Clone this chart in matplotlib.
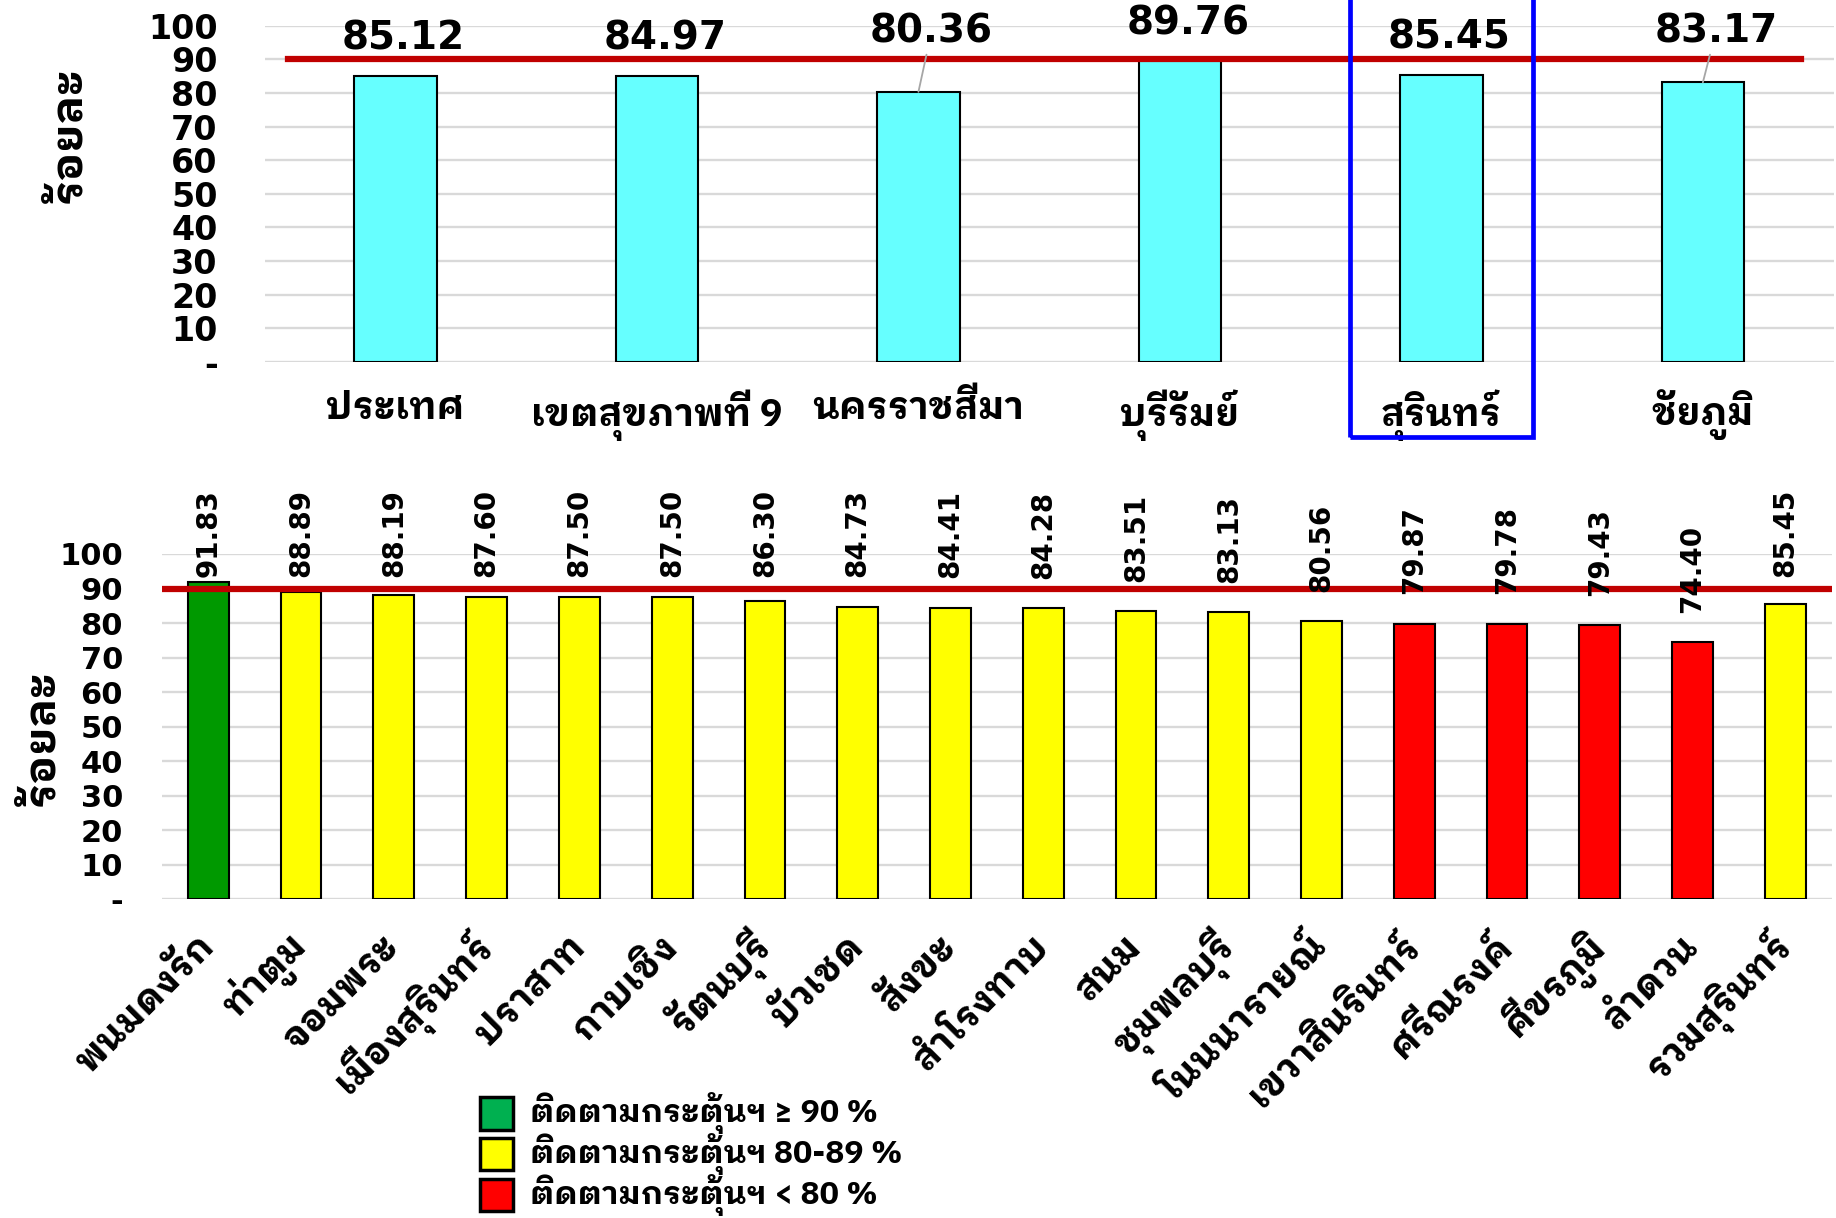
import matplotlib
matplotlib.use("Agg")
import matplotlib.pyplot as plt
import matplotlib.font_manager as fm
import matplotlib.transforms as mtrans
from matplotlib.ft2font import FT2Font
from matplotlib.patches import Rectangle

# ---- data ----
top_names = ["ประเทศ", "เขตสุขภาพที่ 9", "นครราชสีมา", "บุรีรัมย์", "สุรินทร์", "ชัยภูมิ"]
top_values = [85.12, 84.97, 80.36, 89.76, 85.45, 83.17]

district_names = ["พนมดงรัก", "ท่าตูม", "จอมพระ", "เมืองสุรินทร์", "ปราสาท", "กาบเชิง",
                  "รัตนบุรี", "บัวเชด", "สังขะ", "สำโรงทาบ", "สนม", "ชุมพลบุรี",
                  "โนนนารายณ์", "เขวาสินรินทร์", "ศรีณรงค์", "ศีขรภูมิ", "ลำดวน", "รวมสุรินทร์"]
district_values = [91.83, 88.89, 88.19, 87.60, 87.50, 87.50, 86.30, 84.73, 84.41,
                   84.28, 83.51, 83.13, 80.56, 79.87, 79.78, 79.43, 74.40, 85.45]

y_ticks = [0, 10, 20, 30, 40, 50, 60, 70, 80, 90, 100]
y_ticklabels = ["-", "10", "20", "30", "40", "50", "60", "70", "80", "90", "100"]
target = 90
highlight = "สุรินทร์"

legend_labels = ["ติดตามกระตุ้นฯ ≥ 90 %", "ติดตามกระตุ้นฯ 80-89 %", "ติดตามกระตุ้นฯ < 80 %"]
legend_colors = ["#00B050", "#FFFF00", "#FF0000"]

# label heights for the top chart (as placed in the original)
top_label_y = [96.2, 96.2, 98.3, 100.7, 96.5, 98.3]


# ---- fonts: a Thai family that has a real bold face ----
def has_thai(path):
    try:
        return 0x0E01 in FT2Font(path).get_charmap()
    except Exception:
        return False

thai_fonts = [f for f in fm.fontManager.ttflist if has_thai(f.fname)]
bold_thai = {f.name for f in thai_fonts if f.weight in (700, "bold")}
prefer = ["Tahoma", "IBM Plex Sans Thai Looped", "Sarabun", "Niramit", "Loma"]
thai_font = next((p for p in prefer if p in bold_thai),
                 sorted(bold_thai)[0] if bold_thai else "DejaVu Sans")

plt.rcParams["font.family"] = [thai_font, "DejaVu Sans"]
plt.rcParams["font.weight"] = "bold"
num_font = ["DejaVu Sans"]


def bar_color(v):
    if v >= 90:
        return "#009900"
    if v >= 80:
        return "#FFFF00"
    return "#FF0000"


fig = plt.figure(figsize=(18.36, 12.18), dpi=100)

# ---- top chart ----
ax1 = fig.add_axes([0.1442, 0.7029, 0.8545, 0.2759])
x1 = range(len(top_names))
ax1.bar(x1, top_values, width=0.315, color="#66FFFF", edgecolor="black", linewidth=1.5, zorder=2)
ax1.axhline(target, xmin=0.015, xmax=0.979, color="#C00000", linewidth=4.5, zorder=3)
for i, v in enumerate(top_values):
    ly = top_label_y[i]
    if ly - v > 13:
        # label pulled away from the bar -> leader line
        ax1.annotate(f"{v:.2f}", xy=(i, v), xytext=(i + 0.05, ly), ha="center", va="center",
                     fontsize=28, fontweight="bold", family=num_font,
                     arrowprops=dict(arrowstyle="-", color="#A6A6A6", lw=1.3, shrinkA=1, shrinkB=0),
                     annotation_clip=False, zorder=4)
    else:
        ax1.text(i + 0.03, ly, f"{v:.2f}", ha="center", va="center", fontsize=28,
                 fontweight="bold", family=num_font, clip_on=False, zorder=4)
ax1.set_xlim(-0.5, len(top_names) - 0.5)
ax1.set_ylim(0, 100)
ax1.set_yticks(y_ticks, y_ticklabels, fontsize=24, fontweight="bold", family=num_font)
ax1.set_xticks(list(x1), top_names, fontsize=27, fontweight="bold")
ax1.tick_params(axis="y", length=0, pad=34)
ax1.tick_params(axis="x", length=0, pad=20)
ax1.yaxis.grid(True, color="#D9D9D9", linewidth=1.7)
ax1.set_axisbelow(True)
for s in ax1.spines.values():
    s.set_visible(False)
ax1.set_ylabel("ร้อยละ", fontsize=32, fontweight="bold")
ax1.yaxis.set_label_coords(-0.112, 0.676)

# blue box around the province
hi = top_names.index(highlight)
tr = mtrans.blended_transform_factory(ax1.transData, ax1.transAxes)
ax1.add_patch(Rectangle((hi - 0.351, -0.223), 0.702, 1.4, transform=tr, fill=False,
                        edgecolor="#0000FF", linewidth=3.4, clip_on=False, zorder=5))

# ---- bottom chart ----
ax2 = fig.add_axes([0.0882, 0.2615, 0.9095, 0.2837])
x2 = range(len(district_names))
ax2.bar(x2, district_values, width=0.44, color=[bar_color(v) for v in district_values],
        edgecolor="black", linewidth=1.5, zorder=2)
ax2.axhline(target, color="#C00000", linewidth=4.5, zorder=3)
for i, v in enumerate(district_values):
    ax2.text(i, min(v + 8.5, 93.2), f"{v:.2f}", rotation=90, ha="center", va="bottom",
             fontsize=20, fontweight="bold", family=num_font, clip_on=False, zorder=4)
ax2.set_xlim(-0.5, len(district_names) - 0.5)
ax2.set_ylim(0, 100)
ax2.set_yticks(y_ticks, y_ticklabels, fontsize=22, fontweight="bold", family=num_font)
ax2.set_xticks(list(x2), district_names, fontsize=27, fontweight="bold",
               rotation=45, ha="right", va="center", rotation_mode="anchor")
shift = mtrans.ScaledTranslation(0.44, 0, fig.dpi_scale_trans)
for lab in ax2.get_xticklabels():
    lab.set_transform(lab.get_transform() + shift)
ax2.tick_params(axis="y", length=0, pad=28)
ax2.tick_params(axis="x", length=0, pad=30)
ax2.yaxis.grid(True, color="#D9D9D9", linewidth=1.7)
ax2.set_axisbelow(True)
for s in ax2.spines.values():
    s.set_visible(False)
ax2.set_ylabel("ร้อยละ", fontsize=32, fontweight="bold")
ax2.yaxis.set_label_coords(-0.0595, 0.468)

# ---- legend (drawn by hand, tight rows like the original) ----
sq_w, sq_h = 28 / 1560, 28 / 1040
for k, (lab, col) in enumerate(zip(legend_labels, legend_colors)):
    yb = 0.0725 - k * 0.0335
    fig.add_artist(Rectangle((0.2615, yb), sq_w, sq_h, transform=fig.transFigure,
                             facecolor=col, edgecolor="black", linewidth=2.5))
    fig.text(0.2885, yb + sq_h / 2, lab, fontsize=23, fontweight="bold", va="center")

fig.savefig("out.png", dpi=100)
